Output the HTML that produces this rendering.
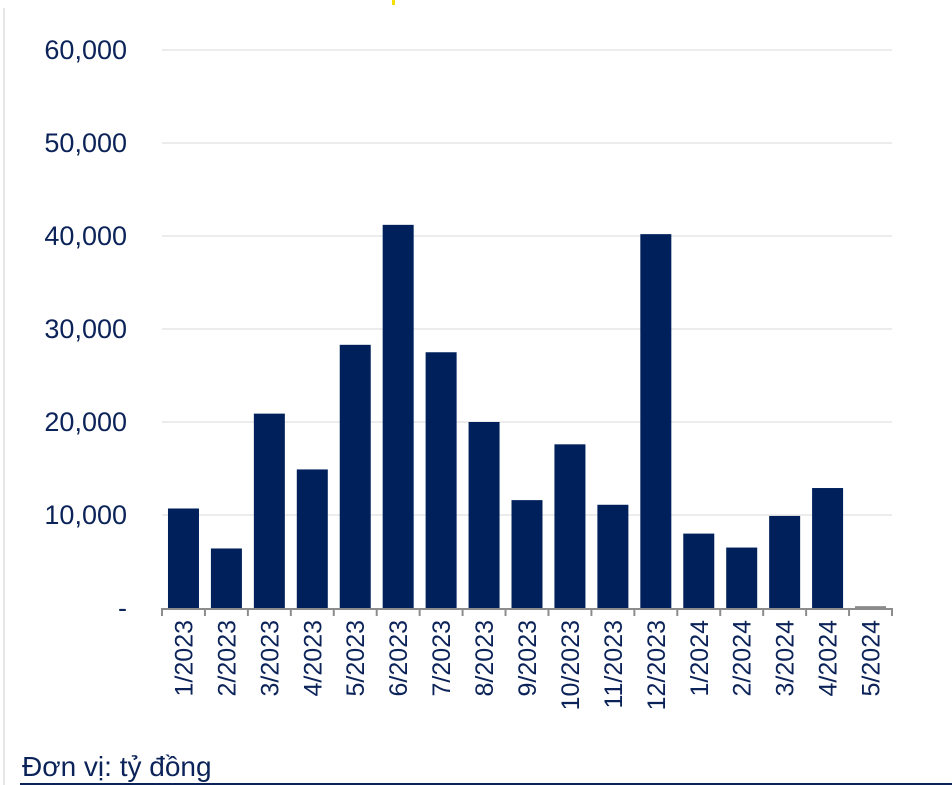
<!DOCTYPE html>
<html><head><meta charset="utf-8"><style>
body{margin:0;background:#fff;}
svg{display:block;font-family:"Liberation Sans",sans-serif;}
</style></head><body>
<svg id="chart" width="952" height="785" viewBox="0 0 952 785">
<line x1="4" y1="8" x2="4" y2="785" stroke="#e6e6e6" stroke-width="2"/>
<rect x="392" y="0" width="3" height="5" fill="#f5e000"/>
<g id="grid"></g><g id="bars"></g><g id="xaxis"></g>
<text x="22" y="776" font-size="28" fill="#0b2358">Đơn vị: tỷ đồng</text>
<line x1="20" y1="784" x2="952" y2="784" stroke="#0b2358" stroke-width="2"/>
</svg>
<script>
const categories=["1/2023","2/2023","3/2023","4/2023","5/2023","6/2023","7/2023","8/2023","9/2023","10/2023","11/2023","12/2023","1/2024","2/2024","3/2024","4/2024","5/2024"];
const values=[10700,6400,20900,14900,28300,41200,27500,20000,11600,17600,11100,40200,8000,6500,9900,12900,200];
const tickValues=[0,10000,20000,30000,40000,50000,60000];
const tickLabels=["-","10,000","20,000","30,000","40,000","50,000","60,000"];
const NS="http://www.w3.org/2000/svg";
const X0=162,X1=892,Y0=608,Y60=50;
const y=v=>Y0-(v/60000)*(Y0-Y60);
const slot=(X1-X0)/categories.length;
const xc=i=>X0+slot*(i+0.5);
function mk(t,a,p){const e=document.createElementNS(NS,t);for(const k in a)e.setAttribute(k,a[k]);p.appendChild(e);return e;}
const grid=document.getElementById('grid'),bars=document.getElementById('bars'),xa=document.getElementById('xaxis');
tickValues.forEach((v,i)=>{
  if(v>0){const l=mk('line',{x1:X0,x2:X1,y1:y(v),y2:y(v),stroke:'#ececec','stroke-width':2},grid);
  
  }
  const t=mk('text',{x:127,y:y(v)+9,'text-anchor':'end','font-size':27,fill:'#0b2358'},grid);
  t.textContent=tickLabels[i];
  
  
});
values.forEach((v,i)=>{
  const r=mk('rect',{x:xc(i)-15.5,y:y(v),width:31,height:Y0-y(v),fill:i===16?'#8a8a8a':'#00205b'},bars);
  
  
});
const ax=mk('line',{x1:X0,x2:X1,y1:Y0+1,y2:Y0+1,stroke:'#8c8c8c','stroke-width':2},xa);


for(let i=0;i<=categories.length;i++){
  const tk=mk('line',{x1:X0+slot*i,x2:X0+slot*i,y1:Y0,y2:Y0+8,stroke:'#8c8c8c','stroke-width':2},xa);
  
  
}
categories.forEach((c,i)=>{
  const t=mk('text',{x:0,y:0,'text-anchor':'end','font-size':25,fill:'#0b2358',transform:`translate(${xc(i)+9},620) rotate(-90)`},xa);
  t.textContent=c;
  
  
});
</script>
</body></html>
